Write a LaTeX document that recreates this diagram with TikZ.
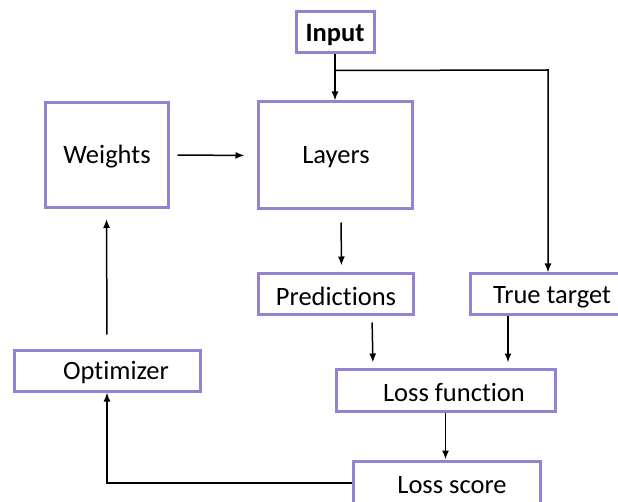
\documentclass[tikz,border=0pt]{standalone}
\usepackage{fontspec}
\setmainfont{Carlito}[Ligatures=NoCommon]
\usetikzlibrary{arrows.meta,calc}
\definecolor{boxpurple}{RGB}{150,130,212}
\begin{document}
\begin{tikzpicture}[x=1pt,y=-1pt,
  box/.style={draw=boxpurple,line width=3pt,fill=white,inner sep=0pt,anchor=center},
  lbl/.style={inner sep=0pt,anchor=center,font=\fontsize{26.5}{32}\selectfont},
  arr/.style={line width=1.5pt,-{Latex[length=9pt,width=7pt]}}]
\useasboundingbox (0,0) rectangle (618,502);
\begin{scope}
\clip (0,0) rectangle (618,502);
% boxes
\node[box,minimum width=78pt,minimum height=41pt] (inp) at (335,32.5) {};
\node[box,minimum width=123pt,minimum height=105pt] (wts) at (106.5,155) {};
\node[box,minimum width=154pt,minimum height=107pt] (lay) at (335,155.5) {};
\node[box,minimum width=155pt,minimum height=41pt] (pred) at (335.5,294.5) {};
\node[box,minimum width=170pt,minimum height=41pt] (tt) at (555,294.5) {};
\node[box,minimum width=219pt,minimum height=42pt] (lf) at (445.5,390) {};
\node[box,minimum width=187pt,minimum height=48pt] (ls) at (446.5,485) {};
\node[box,minimum width=186pt,minimum height=41pt] (opt) at (107,370.5) {};
% labels
\node[lbl,font=\fontsize{26.5}{32}\selectfont\bfseries] (inp-t) at (335,34.5) {Input};
\node[lbl] (wts-t) at (107,157) {Weights};
\node[lbl] (lay-t) at (336,157) {Layers};
\node[lbl] (pred-t) at (336,296) {Predictions};
\node[lbl] (tt-t) at (552,297) {True target};
\node[lbl] (lf-t) at (454,392) {Loss function};
\node[lbl] (ls-t) at (452,485) {Loss score};
\node[lbl] (opt-t) at (116,373) {Optimizer};
% connectors
\coordinate (split) at ($(inp.south)+(0,16)$);
\coordinate (corner) at (548,70);
\draw[arr] (inp.south) -- (lay.north);
\draw[arr] (split) -- (corner) -- (corner |- tt.north);
\draw[arr,shorten <=8pt,shorten >=12pt] (wts.east) -- (lay.west);
\draw[arr,shorten <=12pt,shorten >=7pt] ([xshift=6pt]lay.south) -- ([xshift=6pt]pred.north);
\draw[arr,shorten <=6pt,shorten >=5pt] ([xshift=36.5pt]pred.south) -- ([xshift=-72.5pt]lf.north);
\draw[arr,shorten >=5pt] ([xshift=-47pt]tt.south) -- ([xshift=62.5pt]lf.north);
\draw[arr] (lf.south) -- (lf.south |- ls.north);
\draw[arr] ([yshift=2pt]ls.west) -| (opt.south);
\draw[arr,shorten <=14pt,shorten >=10pt] (opt.north) -- (wts.south);
\end{scope}
\end{tikzpicture}
\end{document}
